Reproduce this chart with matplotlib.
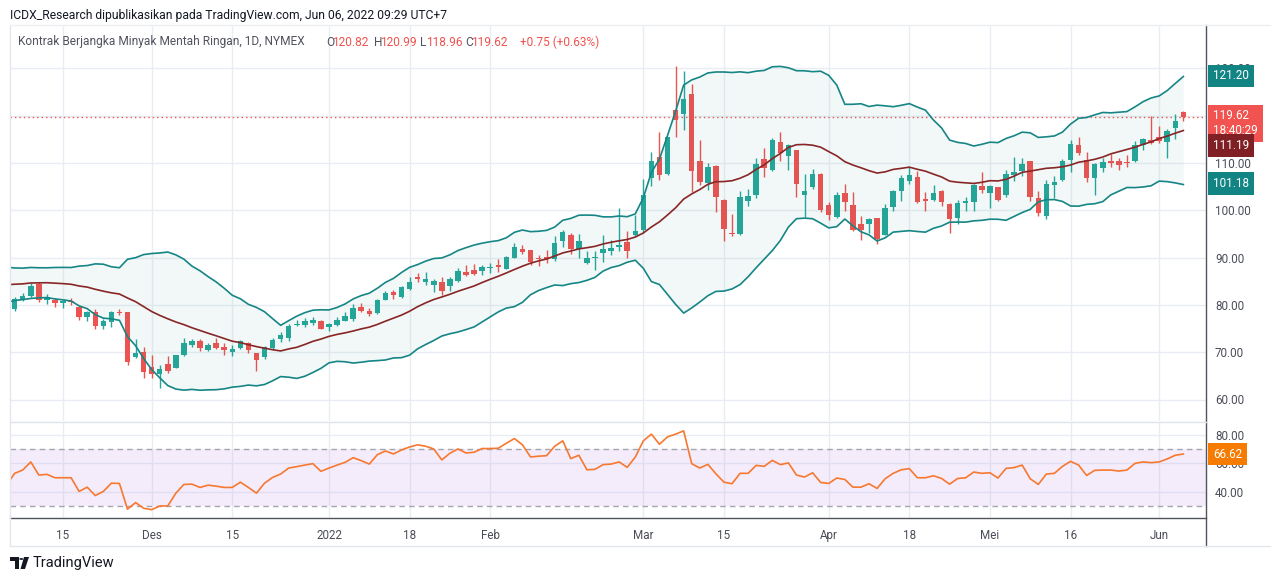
import numpy as np
import pandas as pd
import matplotlib
matplotlib.use("Agg")
import matplotlib.pyplot as plt
from matplotlib.lines import Line2D
from matplotlib.patches import Polygon, Circle

plt.rcParams['font.family'] = ['Roboto', 'DejaVu Sans']

# ---------------- data ----------------
start_date = '2021-11-04'
end_date = '2022-06-06'
holidays = ['2021-11-25', '2021-12-24', '2022-01-17', '2022-02-21', '2022-04-15', '2022-05-30']

opens = [80.6, 79.1, 81.0, 81.9, 84.5, 81.0, 81.0, 80.5, 80.9, 79.6,
         77.4, 78.4, 75.6, 76.3, 78.4, 78.4, 68.9, 70.0, 66.9, 65.4,
         67.5, 66.7, 69.4, 71.6, 72.4, 70.5, 71.9, 71.1, 70.1, 70.9,
         71.9, 69.8, 69.0, 70.9, 72.8, 73.1, 75.7, 75.7, 76.2, 76.5,
         75.4, 75.8, 76.7, 77.0, 79.6, 78.7, 78.2, 81.1, 82.8, 81.6,
         83.4, 86.0, 84.9, 84.3, 84.8, 83.9, 85.1, 87.0, 87.4, 87.2,
         87.8, 88.3, 87.6, 90.0, 91.8, 91.6, 89.8, 90.1, 89.8, 93.6,
         94.8, 91.9, 88.9, 89.9, 91.0, 91.4, 92.3, 93.3, 94.8, 95.8,
         106.9, 111.2, 107.7, 121.2, 120.4, 124.6, 110.4, 105.8, 109.4, 102.2,
         95.2, 95.0, 102.0, 103.2, 110.8, 108.5, 114.4, 111.5, 112.7, 103.3,
         104.9, 107.6, 101.1, 98.6, 103.7, 101.1, 97.0, 97.0, 98.3, 94.8,
         100.6, 104.0, 106.2, 107.1, 102.4, 102.2, 104.1, 101.3, 98.4, 101.6,
         101.8, 105.1, 103.7, 104.9, 103.2, 107.5, 108.3, 110.4, 102.7, 98.9,
         105.3, 106.4, 110.6, 113.8, 110.6, 106.8, 108.9, 110.4, 110.4, 110.2,
         110.5, 113.9, 114.8, 115.6, 114.5, 117.3, 120.82]

highs = [81.2, 81.6, 82.5, 84.6, 84.9, 82.3, 81.5, 81.0, 81.5, 79.7,
         78.8, 79.1, 77.1, 78.8, 79.1, 78.5, 72.8, 71.0, 69.4, 67.3,
         69.2, 69.5, 73.1, 72.8, 72.8, 72.0, 73.0, 71.9, 71.5, 72.6,
         72.2, 69.9, 71.4, 73.1, 74.3, 75.9, 76.8, 77.2, 77.5, 76.9,
         76.2, 77.4, 78.5, 80.1, 80.4, 79.3, 81.3, 82.9, 83.2, 84.1,
         86.0, 86.7, 86.9, 85.5, 85.9, 85.8, 87.8, 88.4, 88.6, 88.4,
         88.8, 89.6, 90.4, 93.0, 92.7, 91.7, 90.5, 91.6, 94.6, 95.8,
         95.1, 95.0, 91.3, 91.5, 94.8, 93.7, 100.4, 95.6, 99.0, 106.6,
         112.3, 116.5, 115.6, 130.5, 129.5, 126.7, 114.9, 110.1, 109.5, 102.4,
         99.2, 104.1, 104.6, 111.0, 113.1, 115.2, 116.6, 114.0, 112.8, 107.7,
         108.7, 107.8, 101.8, 103.9, 105.6, 103.9, 98.9, 98.4, 98.4, 101.3,
         104.2, 107.5, 109.1, 108.3, 103.9, 105.3, 104.2, 101.5, 102.2, 102.9,
         105.5, 108.0, 105.3, 105.0, 108.5, 111.2, 111.0, 110.5, 104.1, 106.4,
         107.3, 110.8, 114.9, 115.4, 112.3, 110.0, 111.1, 112.0, 111.0, 111.7,
         114.7, 115.2, 119.9, 117.8, 117.2, 120.4, 120.99]

lows = [78.2, 78.8, 80.8, 81.7, 80.6, 80.2, 79.5, 79.3, 79.9, 76.8,
        76.5, 75.0, 74.8, 75.3, 77.9, 67.3, 68.7, 64.5, 64.5, 62.5,
        65.7, 66.6, 69.3, 71.0, 70.3, 70.3, 70.6, 69.4, 69.2, 70.7,
        69.8, 66.1, 68.6, 70.7, 72.2, 72.4, 75.5, 75.3, 75.7, 74.8,
        74.4, 75.5, 76.5, 76.7, 78.5, 77.6, 78.0, 81.0, 81.2, 81.5,
        83.2, 84.9, 84.2, 82.8, 82.0, 83.0, 84.9, 86.1, 86.4, 86.3,
        86.7, 87.0, 87.5, 89.9, 90.8, 88.4, 88.2, 88.8, 89.3, 92.2,
        90.7, 89.9, 88.6, 87.4, 89.1, 90.5, 91.5, 90.0, 94.6, 95.5,
        105.1, 106.4, 107.4, 115.6, 117.0, 103.8, 105.3, 104.3, 99.7, 93.6,
        94.6, 94.8, 101.0, 102.5, 107.1, 108.4, 110.5, 108.5, 102.9, 98.6,
        104.4, 99.7, 97.9, 98.3, 99.9, 95.6, 93.7, 95.1, 92.9, 94.7,
        99.9, 102.0, 105.5, 101.5, 99.9, 102.0, 100.9, 95.3, 97.0, 99.9,
        99.9, 103.7, 100.4, 102.0, 102.9, 106.3, 107.3, 102.0, 98.9, 98.2,
        102.7, 106.3, 108.2, 111.7, 106.0, 103.3, 108.2, 109.2, 108.5, 109.2,
        110.3, 112.7, 114.0, 114.3, 111.1, 115.1, 118.96]

closes = [78.8, 81.2, 81.9, 84.0, 81.1, 81.6, 80.5, 80.8, 80.6, 77.4,
          78.4, 75.6, 76.7, 78.5, 78.2, 68.0, 69.8, 65.9, 65.3, 66.5,
          66.0, 69.4, 71.9, 72.4, 70.8, 71.5, 70.9, 70.5, 70.7, 72.3,
          70.5, 68.4, 71.1, 72.6, 73.6, 75.5, 75.9, 76.5, 76.9, 75.0,
          76.0, 76.8, 77.7, 79.3, 78.7, 78.0, 81.0, 82.6, 82.0, 83.8,
          84.8, 85.5, 85.5, 85.0, 83.0, 85.5, 87.2, 86.4, 86.6, 88.0,
          88.0, 88.1, 90.1, 92.2, 91.1, 89.1, 89.6, 89.7, 93.0, 95.4,
          91.9, 93.5, 89.9, 90.1, 91.8, 92.0, 92.6, 91.3, 95.6, 103.2,
          110.4, 107.5, 115.5, 119.1, 123.5, 108.4, 105.9, 109.1, 102.9, 96.0,
          94.9, 102.9, 103.0, 109.8, 109.0, 114.9, 112.2, 113.8, 105.6, 104.1,
          107.7, 100.1, 99.0, 103.2, 101.8, 95.8, 95.8, 98.2, 94.0, 100.5,
          104.1, 106.8, 107.5, 101.8, 102.0, 103.7, 101.8, 98.2, 101.5, 102.0,
          105.3, 104.3, 105.1, 102.2, 107.7, 108.0, 109.8, 102.9, 99.4, 105.6,
          106.0, 110.5, 114.0, 112.2, 106.9, 109.8, 110.2, 110.1, 109.6, 110.0,
          113.9, 115.1, 114.3, 114.7, 116.8, 118.9, 119.62]

# closes before the first visible bar (warm-up of the 20-bar Bollinger Bands)
prior_closes = [79.35, 80.52, 80.64, 80.44, 81.31, 82.28, 82.44, 82.96, 83.87, 82.50,
                83.76, 83.76, 84.65, 82.66, 82.81, 83.57, 84.05, 83.91, 80.86]

rsi_values = [44.8, 53.1, 55.4, 61.1, 51.9, 52.4, 50.0, 50.0, 50.0, 40.4,
              43.4, 37.5, 40.4, 46.2, 46.0, 27.9, 32.6, 28.6, 27.6, 30.2,
              30.2, 39.2, 45.3, 45.5, 43.2, 44.8, 44.1, 43.2, 43.2, 46.9,
              43.2, 39.2, 46.2, 50.2, 52.6, 56.8, 57.8, 58.9, 59.9, 54.5,
              56.8, 58.9, 60.8, 64.1, 62.0, 59.6, 66.2, 68.8, 66.7, 69.5,
              71.6, 73.1, 72.1, 70.2, 62.5, 67.2, 70.2, 67.4, 67.9, 70.5,
              70.5, 70.7, 74.2, 77.5, 73.1, 64.6, 65.1, 65.5, 72.1, 75.9,
              63.4, 65.8, 55.6, 55.9, 59.2, 59.6, 61.1, 57.3, 64.5, 75.9,
              80.6, 73.5, 78.7, 80.6, 82.9, 59.9, 56.8, 59.4, 52.8, 46.9,
              45.8, 53.1, 53.1, 58.7, 58.0, 62.2, 59.2, 60.4, 51.9, 50.5,
              53.5, 46.7, 46.0, 49.8, 48.8, 43.4, 43.4, 45.8, 42.5, 49.3,
              53.1, 55.6, 56.4, 50.0, 50.0, 51.4, 49.5, 45.5, 49.5, 50.0,
              54.0, 53.1, 53.5, 49.8, 56.6, 57.1, 58.9, 49.3, 45.3, 52.6,
              53.1, 58.0, 61.5, 58.9, 51.6, 55.2, 55.4, 55.4, 54.7, 55.4,
              60.1, 61.1, 60.6, 61.1, 63.2, 65.8, 66.62]

tick_dates = ['2021-11-15', '2021-12-01', '2021-12-15', '2022-01-03', '2022-01-18', '2022-02-01',
              '2022-03-01', '2022-03-15', '2022-04-01', '2022-04-18', '2022-05-02', '2022-05-16', '2022-06-01']
tick_labels = ['15', 'Des', '15', '2022', '18', 'Feb', 'Mar', '15', 'Apr', '18', 'Mei', '16', 'Jun']
price_ticks = [60, 70, 80, 90, 100, 110, 120, 130]
hidden_price_ticks = [120]          # covered by the last-price tag in the reference
rsi_ticks = [40, 60, 80]
rsi_upper, rsi_lower = 70, 30

bb_label_upper, bb_label_mid, bb_label_lower = 121.20, 111.19, 101.18
last_close = 119.62
countdown = '18:40:29'
rsi_last = 66.62

title = 'ICDX_Research dipublikasikan pada TradingView.com, Jun 06, 2022 09:29 UTC+7'
symbol_name = 'Kontrak Berjangka Minyak Mentah Ringan, 1D, NYMEX'
ohlc_text = [('O', '120.82'), ('H', '120.99'), ('L', '118.96'), ('C', '119.62')]
change_text = '+0.75 (+0.63%)'

# ---------------- derived ----------------
dates = pd.bdate_range(start_date, end_date, freq='C', holidays=holidays)
o = np.array(opens); h = np.array(highs); l = np.array(lows); c = np.array(closes)
n = len(c)
x = np.arange(n)
tick_pos = dates.get_indexer(pd.to_datetime(tick_dates))

full = pd.Series(prior_closes + closes)
basis = full.rolling(20).mean().values[-n:]
dev = full.rolling(20).std(ddof=0).values[-n:]
upper = basis + 2 * dev
lower = basis - 2 * dev

# ---------------- colours ----------------
UP = '#26a69a'
DOWN = '#ef5350'
BAND = '#168585'
BASIS = '#882525'
GRID = '#e9edf3'
TXT = '#4a4d57'

W, H = 1280, 581
fig = plt.figure(figsize=(W / 100, H / 100), dpi=100)
fig.patch.set_facecolor('white')

def fx(px):
    return px / W

def fy(py):
    return 1 - py / H

L_PX, R_PX = 10, 1206
MAIN_TOP, MAIN_BOT = 25, 421
RSI_TOP, RSI_BOT = 423, 518

ax = fig.add_axes([fx(L_PX), fy(MAIN_BOT), fx(R_PX - L_PX), (MAIN_BOT - MAIN_TOP) / H])
axr = fig.add_axes([fx(L_PX), fy(RSI_BOT), fx(R_PX - L_PX), (RSI_BOT - RSI_TOP) / H], sharex=ax)

xmin = (L_PX - 6.6) / 8.06
xmax = (R_PX - 6.6) / 8.06
ax.set_xlim(xmin, xmax)

# price scale: 110 at y=163 px, 4.73 px per unit
ppu = 4.73
ax.set_ylim(110 - (MAIN_BOT - 163) / ppu, 110 + (163 - MAIN_TOP) / ppu)

# indicator (own overlay scale)
ax2 = ax.twinx()
ipu = 5.36
ax2.set_ylim(bb_label_upper - (MAIN_BOT - 76) / ipu, bb_label_upper + (76 - MAIN_TOP) / ipu)

# grids
for t in price_ticks:
    ax.axhline(t, color=GRID, lw=1, zorder=0)
for tp in tick_pos:
    ax.axvline(tp, color=GRID, lw=1, zorder=0)
    axr.axvline(tp, color=GRID, lw=1, zorder=0)
for t in rsi_ticks:
    axr.axhline(t, color=GRID, lw=1, zorder=0)

# candles
colors = np.where(c >= o, UP, DOWN)
ax.vlines(x, l, h, colors=colors, lw=1.0, zorder=3)
body_h = np.maximum(np.abs(c - o), 0.3)
body_b = np.minimum(o, c)
ax.bar(x, body_h, bottom=body_b, width=0.68, color=colors, linewidth=0, zorder=4)

# last price dotted line
ax.axhline(last_close, color=DOWN, lw=1.0, ls=(0, (1, 2.2)), zorder=2)

# bollinger bands
ax2.fill_between(x, lower, upper, color=BAND, alpha=0.055, linewidth=0, zorder=1)
ax2.plot(x, upper, color=BAND, lw=1.2, zorder=5)
ax2.plot(x, lower, color=BAND, lw=1.2, zorder=5)
ax2.plot(x, basis, color=BASIS, lw=1.2, zorder=5)

# RSI
axr.set_ylim(80 - (RSI_BOT - 435) / 1.425, 80 + (435 - RSI_TOP) / 1.425)
axr.axhspan(rsi_lower, rsi_upper, color='#a66ae6', alpha=0.12, lw=0, zorder=1)
axr.axhline(rsi_upper, color='#a3a6ae', lw=1, ls=(0, (4, 3)), zorder=2)
axr.axhline(rsi_lower, color='#a3a6ae', lw=1, ls=(0, (4, 3)), zorder=2)
axr.plot(x, rsi_values, color='#f7782f', lw=1.2, zorder=4)

# axes styling
for a in (ax, ax2, axr):
    for s in a.spines.values():
        s.set_visible(False)
ax.patch.set_alpha(0)
axr.patch.set_alpha(0)
ax2.set_yticks([])
ax2.tick_params(axis='both', length=0, labelsize=0)

ax.yaxis.tick_right()
ax.set_yticks(price_ticks)
ax.set_yticklabels(['' if t in hidden_price_ticks else f'{t:.2f}' for t in price_ticks])
ax.tick_params(axis='y', length=0, pad=6.5, labelsize=8.4, labelcolor=TXT)
ax.tick_params(axis='x', length=0, labelbottom=False)

axr.yaxis.tick_right()
axr.set_yticks(rsi_ticks)
axr.set_yticklabels([f'{t:.2f}' for t in rsi_ticks])
axr.tick_params(axis='y', length=0, pad=6.5, labelsize=8.4, labelcolor=TXT)
axr.set_xticks(tick_pos)
axr.set_xticklabels(tick_labels)
axr.tick_params(axis='x', length=0, pad=8, labelsize=8.4, labelcolor=TXT)

# frame lines (figure decorations)
def hline(y, x0, x1, color, lw=1.0):
    fig.add_artist(Line2D([fx(x0), fx(x1)], [fy(y), fy(y)], color=color, lw=lw))

def vline(xp, y0, y1, color, lw=1.0):
    fig.add_artist(Line2D([fx(xp), fx(xp)], [fy(y0), fy(y1)], color=color, lw=lw))

vline(R_PX, MAIN_TOP, 546, '#50535e', 1.0)
hline(RSI_BOT, L_PX, R_PX, '#50535e', 1.0)
hline(422, L_PX, R_PX, '#dfe2e8', 1.0)
vline(L_PX, MAIN_TOP, 546, '#e3e6ec', 1.0)
hline(546, L_PX, 1270, '#e3e6ec', 1.0)
hline(MAIN_TOP, L_PX, 1270, '#eceff3', 1.0)

# price-scale labels
def tag(axis, value, text, face, dy=0, va='center', size=8.4, z=20):
    axis.annotate(text, xy=(1, value), xycoords=('axes fraction', 'data'),
                  xytext=(7, dy), textcoords='offset pixels', ha='left', va=va,
                  color='white', fontsize=size, annotation_clip=False, zorder=z,
                  linespacing=1.15,
                  bbox=dict(boxstyle='square,pad=0.42', fc=face, ec='none'))

tag(ax2, bb_label_upper, f'{bb_label_upper:.2f}', '#138484')
tag(ax2, bb_label_lower, f'{bb_label_lower:.2f}', '#138484')
tag(ax2, bb_label_mid, f'{bb_label_mid:.2f}', '#801f24', dy=-16)
tag(ax, last_close, f'{last_close:.2f}\n{countdown}', '#f05350', dy=8, va='top', z=30)
tag(axr, rsi_last, f'{rsi_last:.2f}', '#f57c00')

# header texts
fig.text(fx(10), fy(15), title, fontsize=8.75, color='#131722', va='center', ha='left')
fig.text(fx(18), fy(42), symbol_name, fontsize=8.6, color='#50535e', va='center', ha='left')
lx = [326, 374, 420, 465]
for (k, v), xp in zip(ohlc_text, lx):
    fig.text(fx(xp), fy(42), k, fontsize=8.6, color='#50535e', va='center', ha='left')
    fig.text(fx(xp + 6.5), fy(42), v, fontsize=8.6, color='#ef5350', va='center', ha='left')
fig.text(fx(520), fy(42), change_text, fontsize=8.6, color='#ef5350', va='center', ha='left')

# TradingView logo
fig.add_artist(Polygon([(fx(10), fy(557)), (fx(19), fy(557)), (fx(19), fy(569)), (fx(15), fy(569)),
                        (fx(15), fy(561)), (fx(10), fy(561))], closed=True, fc='#131722', ec='none'))
fig.add_artist(Circle((fx(21.3), fy(559)), 2.0 / W, fc='#131722', ec='none', transform=fig.transFigure))
fig.add_artist(Polygon([(fx(24), fy(557)), (fx(29), fy(557)), (fx(25), fy(569)), (fx(20.5), fy(569))],
                       closed=True, fc='#131722', ec='none'))
fig.text(fx(33), fy(563), 'TradingView', fontsize=10.5, color='#131722', va='center', ha='left')

fig.savefig('out.png', dpi=100, facecolor='white')
